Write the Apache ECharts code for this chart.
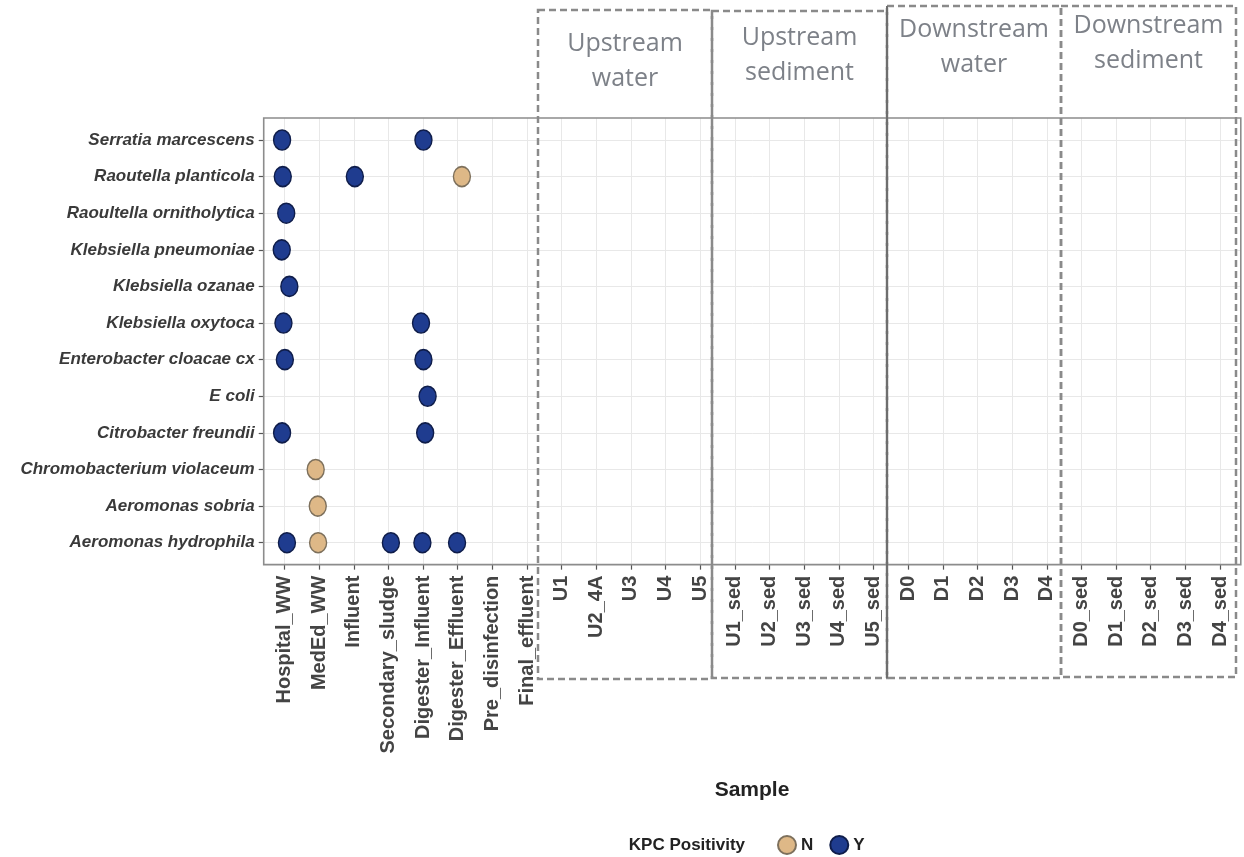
<!DOCTYPE html>
<html><head><meta charset="utf-8">
<script src="https://cdn.jsdelivr.net/npm/echarts@6/dist/echarts.min.js"></script>
<style>html,body{margin:0;padding:0;background:#fff}#c{width:1244px;height:857px}</style>
</head><body><div id="c"></div>
<script>
// ---- data ----
const samples = ["Hospital_WW","MedEd_WW","Influent","Secondary_sludge","Digester_Influent","Digester_Effluent","Pre_disinfection","Final_effluent",
  "U1","U2_4A","U3","U4","U5","U1_sed","U2_sed","U3_sed","U4_sed","U5_sed",
  "D0","D1","D2","D3","D4","D0_sed","D1_sed","D2_sed","D3_sed","D4_sed"];
const species = ["Serratia marcescens","Raoutella planticola","Raoultella ornitholytica","Klebsiella pneumoniae","Klebsiella ozanae",
  "Klebsiella oxytoca","Enterobacter cloacae cx","E coli","Citrobacter freundii","Chromobacterium violaceum","Aeromonas sobria","Aeromonas hydrophila"];
const obsSample = ["Hospital_WW","Hospital_WW","Hospital_WW","Hospital_WW","Hospital_WW","Hospital_WW","Hospital_WW","Hospital_WW","Hospital_WW",
  "Digester_Influent","Digester_Influent","Digester_Influent","Digester_Influent","Digester_Influent","Digester_Influent",
  "Influent","Secondary_sludge","Digester_Effluent","Digester_Effluent","MedEd_WW","MedEd_WW","MedEd_WW"];
const obsSpecies = ["Serratia marcescens","Raoutella planticola","Raoultella ornitholytica","Klebsiella pneumoniae","Klebsiella ozanae","Klebsiella oxytoca","Enterobacter cloacae cx","Citrobacter freundii","Aeromonas hydrophila",
  "Serratia marcescens","Klebsiella oxytoca","Enterobacter cloacae cx","E coli","Citrobacter freundii","Aeromonas hydrophila",
  "Raoutella planticola","Aeromonas hydrophila","Aeromonas hydrophila","Raoutella planticola","Chromobacterium violaceum","Aeromonas sobria","Aeromonas hydrophila"];
const obsKPC = ["Y","Y","Y","Y","Y","Y","Y","Y","Y", "Y","Y","Y","Y","Y","Y", "Y","Y","Y","N","N","N","N"];
const obsJitter = [-0.07,-0.05,0.05,-0.08,0.14,-0.03,0.01,-0.07,0.07, 0.01,-0.06,0.01,0.13,0.06,-0.02, 0.03,0.07,-0.02,0.12,-0.10,-0.04,-0.03];
const groupTitles = [["Upstream","water"],["Upstream","sediment"],["Downstream","water"],["Downstream","sediment"]];

// ---- layout ----
const X0 = 284.5, X1 = 1220, Y0 = 140, Y1 = 542.7;
const ux = (X1 - X0) / (samples.length - 1), uy = (Y1 - Y0) / (species.length - 1);
const P = { l: X0 - 0.6 * ux, r: X1 + 0.6 * ux, t: Y0 - 0.6 * uy, b: Y1 + 0.6 * uy };
const FONT = '"Liberation Sans", Arial, sans-serif';

function pts(k) {
  const out = [];
  for (let i = 0; i < obsSample.length; i++) {
    if (obsKPC[i] !== k) continue;
    out.push([samples.indexOf(obsSample[i]) + obsJitter[i], species.indexOf(obsSpecies[i])]);
  }
  return out;
}

const boxes = [
  { x0: 538, x1: 712, y0: 10, y1: 679, title: groupTitles[0], ty: 44 },
  { x0: 712, x1: 887, y0: 11, y1: 678, title: groupTitles[1], ty: 38 },
  { x0: 887, x1: 1061, y0: 6, y1: 678, title: groupTitles[2], ty: 30 },
  { x0: 1061, x1: 1236, y0: 6, y1: 677, title: groupTitles[3], ty: 26 }
];
const graphics = [
  { type: 'rect', z: 5, shape: { x: P.l, y: P.t, width: P.r - P.l, height: P.b - P.t },
    style: { fill: 'none', stroke: '#8c8c8c', lineWidth: 1.6 } }
];
boxes.forEach((b, i) => {
  graphics.push({ type: 'rect', z: 6, shape: { x: b.x0, y: b.y0, width: b.x1 - b.x0, height: b.y1 - b.y0 },
    style: { fill: 'none', stroke: '#8a8a8a', lineWidth: 2.5, lineDash: [7, 4] } });
  const cx = (b.x0 + b.x1) / 2;
  b.title.forEach((t, j) => {
    graphics.push({ type: 'text', z: 7, x: cx, y: b.ty + j * 35,
      style: { text: t, fill: '#7d8188', font: '25px "Open Sans", sans-serif', align: 'center', verticalAlign: 'middle' } });
  });
});
graphics.push({ type: 'line', z: 7, shape: { x1: 887, y1: 6, x2: 887, y2: 678 }, style: { stroke: '#6e6e6e', lineWidth: 2 } });
graphics.push({ type: 'text', x: 752, y: 790, style: { text: 'Sample', fill: '#222', font: 'bold 21px ' + FONT, align: 'center', verticalAlign: 'middle' } });
graphics.push({ type: 'text', x: 745, y: 845, style: { text: 'KPC Positivity', fill: '#222', font: 'bold 17px ' + FONT, align: 'right', verticalAlign: 'middle' } });

const chart = echarts.init(document.getElementById('c'));
chart.setOption({
  animation: false,
  backgroundColor: '#fff',
  grid: [
    { left: X0, top: P.t, width: X1 - X0, height: P.b - P.t },
    { left: P.l, top: Y0, width: P.r - P.l, height: Y1 - Y0 }
  ],
  xAxis: [
    { gridIndex: 0, type: 'value', min: 0, max: samples.length - 1, interval: 1, position: 'bottom',
      axisLine: { show: false, onZero: false },
      axisTick: { show: true, length: 5, lineStyle: { color: '#555', width: 1.2 } },
      splitLine: { show: true, lineStyle: { color: '#e8e8e8', width: 1 } },
      axisLabel: { rotate: 90, margin: 11, color: '#444', fontWeight: 'bold', fontSize: 20, fontFamily: FONT,
        formatter: v => samples[Math.round(v)] || '' } },
    { gridIndex: 1, type: 'value', min: 0, max: 1, show: false }
  ],
  yAxis: [
    { gridIndex: 0, type: 'value', min: -0.6, max: species.length - 1 + 0.6, inverse: true, show: false },
    { gridIndex: 1, type: 'value', min: 0, max: species.length - 1, interval: 1, inverse: true,
      axisLine: { show: false, onZero: false },
      axisTick: { show: true, length: 5, lineStyle: { color: '#555', width: 1.2 } },
      splitLine: { show: true, lineStyle: { color: '#e8e8e8', width: 1 } },
      axisLabel: { margin: 9, color: '#3a3a3a', fontWeight: 'bold', fontStyle: 'italic', fontSize: 17, fontFamily: FONT,
        formatter: v => species[Math.round(v)] || '' } }
  ],
  legend: {
    data: ['N', 'Y'], left: 772, top: 830, itemWidth: 18, itemHeight: 20, itemGap: 16,
    textStyle: { fontWeight: 'bold', fontSize: 17, color: '#222', fontFamily: FONT }
  },
  series: [
    { name: 'N', type: 'scatter', xAxisIndex: 0, yAxisIndex: 0, symbol: 'circle', symbolSize: [17, 20], z: 10, clip: false,
      itemStyle: { color: '#deb887', borderColor: '#7d705c', borderWidth: 1.5, opacity: 1 }, data: pts('N') },
    { name: 'Y', type: 'scatter', xAxisIndex: 0, yAxisIndex: 0, symbol: 'circle', symbolSize: [17, 20], z: 10, clip: false,
      itemStyle: { color: '#1f3c8f', borderColor: '#0f1d4a', borderWidth: 1.5, opacity: 1 }, data: pts('Y') }
  ],
  graphic: graphics
});
</script></body></html>
